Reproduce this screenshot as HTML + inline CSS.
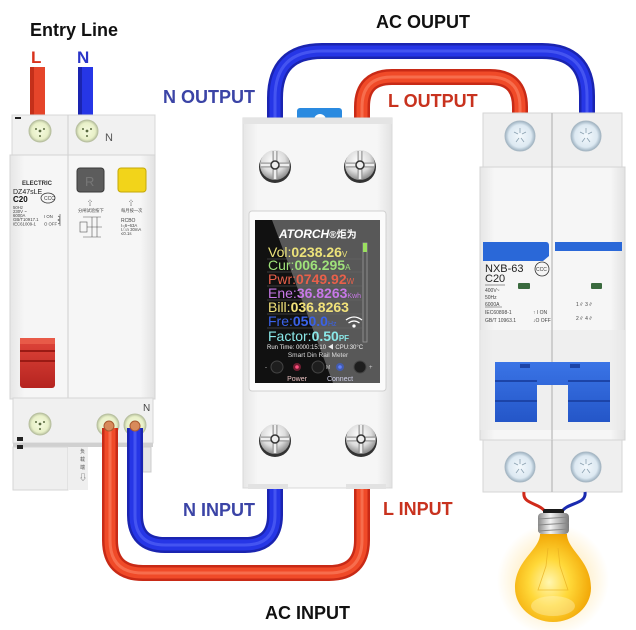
<!DOCTYPE html>
<html><head><meta charset="utf-8">
<style>
html,body{margin:0;padding:0;background:#fff;}
svg{display:block;}
text{font-family:"Liberation Sans","Noto Sans CJK SC",sans-serif;}
</style></head>
<body>
<svg width="636" height="630" viewBox="0 0 636 630" xmlns="http://www.w3.org/2000/svg">
<defs>
  <radialGradient id="scr" cx="45%" cy="35%" r="65%">
    <stop offset="0" stop-color="#ffffff"/>
    <stop offset="0.6" stop-color="#dcdcdc"/>
    <stop offset="1" stop-color="#8a8a8a"/>
  </radialGradient>
  <radialGradient id="grn" cx="50%" cy="50%" r="50%">
    <stop offset="0" stop-color="#f6fbe0"/>
    <stop offset="0.75" stop-color="#e8f0c8"/>
    <stop offset="1" stop-color="#b9c2a0"/>
  </radialGradient>
  <radialGradient id="blu" cx="50%" cy="50%" r="50%">
    <stop offset="0" stop-color="#f2f8fc"/>
    <stop offset="0.75" stop-color="#dde9f2"/>
    <stop offset="1" stop-color="#9fb3c2"/>
  </radialGradient>
  <radialGradient id="bulb" cx="45%" cy="55%" r="60%">
    <stop offset="0" stop-color="#fff6b0"/>
    <stop offset="0.45" stop-color="#ffd838"/>
    <stop offset="1" stop-color="#f0a000"/>
  </radialGradient>
  <radialGradient id="glow" cx="50%" cy="50%" r="50%">
    <stop offset="0" stop-color="#ffd060" stop-opacity="0.7"/>
    <stop offset="1" stop-color="#ffd060" stop-opacity="0"/>
  </radialGradient>
  <linearGradient id="sock" x1="0" y1="0" x2="1" y2="0">
    <stop offset="0" stop-color="#8a8a8a"/>
    <stop offset="0.4" stop-color="#f4f4f4"/>
    <stop offset="1" stop-color="#7a7a7a"/>
  </linearGradient>
  <linearGradient id="body" x1="0" y1="0" x2="1" y2="0">
    <stop offset="0" stop-color="#e6e6e6"/>
    <stop offset="0.1" stop-color="#f6f6f6"/>
    <stop offset="0.9" stop-color="#f6f6f6"/>
    <stop offset="1" stop-color="#e2e2e2"/>
  </linearGradient>
  <linearGradient id="hblue" x1="0" y1="0" x2="0" y2="1">
    <stop offset="0" stop-color="#3a74e6"/>
    <stop offset="1" stop-color="#2456c8"/>
  </linearGradient>
  <linearGradient id="hred" x1="0" y1="0" x2="0" y2="1">
    <stop offset="0" stop-color="#e0453a"/>
    <stop offset="1" stop-color="#b52420"/>
  </linearGradient>
</defs>

<!-- ===== TITLES ===== -->
<text x="30" y="36" font-size="18" font-weight="bold" fill="#111">Entry Line</text>
<text x="31" y="63" font-size="17" font-weight="bold" fill="#d8321c">L</text>
<text x="77" y="63" font-size="17" font-weight="bold" fill="#2a35c8">N</text>
<text x="376" y="28" font-size="18" font-weight="bold" fill="#111">AC OUPUT</text>
<text x="163" y="103" font-size="18" font-weight="bold" fill="#3b44a6">N OUTPUT</text>
<text x="388" y="107" font-size="18" font-weight="bold" fill="#c8321e">L OUTPUT</text>
<text x="183" y="516" font-size="18" font-weight="bold" fill="#3b44a6">N INPUT</text>
<text x="383" y="515" font-size="18" font-weight="bold" fill="#c8321e">L INPUT</text>
<text x="265" y="619" font-size="18" font-weight="bold" fill="#111">AC INPUT</text>

<!-- ===== TOP WIRES ===== -->
<g fill="none" stroke-linecap="butt">
  <path d="M275 120 V98 Q275 51 322 51 H542 Q587 51 587 96 V116" stroke="#1a24b0" stroke-width="16"/>
  <path d="M275 120 V98 Q275 51 322 51 H542 Q587 51 587 96 V116" stroke="#2636e6" stroke-width="11"/>
  <path d="M275 120 V98 Q275 51 322 51 H542 Q587 51 587 96 V116" stroke="#6a7aff" stroke-width="3" opacity="0.45"/>
  <path d="M362 120 V107 Q362 77 392 77 H490 Q520 77 520 107 V116" stroke="#c82a16" stroke-width="16"/>
  <path d="M362 120 V107 Q362 77 392 77 H490 Q520 77 520 107 V116" stroke="#f04a28" stroke-width="11"/>
  <path d="M362 120 V107 Q362 77 392 77 H490 Q520 77 520 107 V116" stroke="#ff9a7a" stroke-width="3" opacity="0.45"/>
  <!-- entry wires -->
  <rect x="30" y="67" width="15" height="50" fill="#e5452a" stroke="none"/>
  <rect x="30" y="67" width="4" height="50" fill="#c4301a" stroke="none"/>
  <rect x="78" y="67" width="15" height="50" fill="#2636e6" stroke="none"/>
  <rect x="78" y="67" width="4" height="50" fill="#1a24b0" stroke="none"/>
</g>

<!-- ===== LEFT BREAKER ===== -->
<g>
  <!-- top terminal block -->
  <rect x="12" y="115" width="143" height="42" fill="#f1f1f1" stroke="#d8d8d8"/>
  <line x1="68" y1="115" x2="68" y2="157" stroke="#cfcfcf"/>
  <rect x="15" y="117" width="6" height="2" fill="#222"/>
  <circle cx="40" cy="131" r="11" fill="url(#grn)" stroke="#b8c0a0"/>
  <circle cx="87" cy="131" r="11" fill="url(#grn)" stroke="#b8c0a0"/>
  <g fill="#5a6a40"><circle cx="40" cy="131" r="1.4"/><circle cx="36" cy="129" r="1"/><circle cx="44" cy="129" r="1"/><circle cx="40" cy="136" r="1"/>
  <circle cx="87" cy="131" r="1.4"/><circle cx="83" cy="129" r="1"/><circle cx="91" cy="129" r="1"/><circle cx="87" cy="136" r="1"/></g>
  <text x="105" y="141" font-size="11" fill="#555">N</text>
  <!-- body -->
  <rect x="10" y="155" width="145" height="244" fill="url(#body)" stroke="#d4d4d4"/>
  <line x1="68" y1="155" x2="68" y2="490" stroke="#cfcfcf"/>
  <!-- buttons -->
  <rect x="77" y="168" width="27" height="24" rx="3" fill="#5c5c5c" stroke="#3a3a3a"/>
  <text x="85" y="186" font-size="13" fill="#777">R</text>
  <rect x="118" y="168" width="28" height="24" rx="3" fill="#f2d41a" stroke="#c4a808"/>
  <text x="22" y="185" font-size="6" font-weight="bold" fill="#333">ELECTRIC</text>
  <text x="13" y="194" font-size="7" fill="#222">DZ47sLE</text>
  <text x="13" y="202" font-size="8" font-weight="bold" fill="#111">C20</text>
  <ellipse cx="48" cy="198" rx="7" ry="5" fill="none" stroke="#333" stroke-width="0.8"/>
  <text x="44" y="200" font-size="5" fill="#333">CCC</text>
  <g font-size="4.3" fill="#444">
    <text x="13" y="209">50Hz</text><text x="13" y="213">230V ~</text><text x="13" y="217">6000A</text>
    <text x="13" y="221">GB/T10917.1</text><text x="13" y="225.5">IEC61009-1</text>
    <text x="44" y="218">I ON</text><text x="44" y="225.5">O OFF</text>
    <text x="87" y="205" font-size="6">⇧</text><text x="128" y="205" font-size="6">⇧</text>
    <text x="78" y="212">分闸试验按下</text><text x="121" y="212">每月按一次</text>
    <text x="121" y="222" font-size="5">RCBO</text><text x="121" y="227">I=6~63A</text>
    <text x="121" y="231">I△n 30mA</text><text x="121" y="235">≤0.1s</text>
  </g>
  <path d="M60 214 v12 M58 216 q4 2 0 4 q4 2 0 4" stroke="#444" stroke-width="0.6" fill="none"/>
  <g stroke="#555" stroke-width="0.6" fill="none">
    <rect x="80" y="222" width="7" height="10"/><path d="M87 227 h15 M92 217 v20 M97 217 v20 M83 237 h18 M83 217 h18"/>
  </g>
  <!-- red handle -->
  <rect x="20" y="338" width="35" height="50" rx="3" fill="url(#hred)"/>
  <rect x="20" y="350" width="35" height="2" fill="#9a1a14"/>
  <rect x="20" y="360" width="35" height="2" fill="#9a1a14"/>
  <rect x="20" y="338" width="35" height="6" fill="#e85a48"/>
  <!-- bottom block -->
  <rect x="13" y="398" width="140" height="45" fill="#f0f0f0" stroke="#d6d6d6"/>
  <rect x="13" y="443" width="140" height="4" fill="#d0d0d0"/>
  <rect x="13" y="447" width="55" height="43" fill="#efefef" stroke="#d6d6d6"/>
  <rect x="68" y="447" width="20" height="43" fill="#efefef"/>
  <rect x="143" y="447" width="8" height="25" fill="#e6e6e6" stroke="#ccc"/>
  <rect x="17" y="437" width="6" height="4" fill="#222"/><rect x="17" y="445" width="6" height="4" fill="#222"/>
  <circle cx="40" cy="424" r="11" fill="url(#grn)" stroke="#b8c0a0"/>
  <g fill="#5a6a40"><circle cx="40" cy="424" r="1.4"/><circle cx="36" cy="422" r="1"/><circle cx="44" cy="422" r="1"/><circle cx="40" cy="429" r="1"/></g>
  <text x="143" y="411" font-size="10" fill="#444">N</text>
  <circle cx="108" cy="425" r="11" fill="url(#grn)" stroke="#b8c0a0"/>
  <circle cx="135" cy="425" r="11" fill="url(#grn)" stroke="#b8c0a0"/>
  <g font-size="5" fill="#555"><text x="80" y="453">负</text><text x="80" y="461">载</text><text x="80" y="469">端</text><text x="79" y="480" font-size="8">⇩</text></g>
</g>

<!-- ===== BOTTOM WIRES ===== -->
<g fill="none">
  <path d="M362 486 V540 Q362 573 329 573 H143 Q110 573 110 540 V428" stroke="#c82a16" stroke-width="16"/>
  <path d="M362 486 V540 Q362 573 329 573 H143 Q110 573 110 540 V428" stroke="#f04a28" stroke-width="11"/>
  <path d="M362 486 V540 Q362 573 329 573 H143 Q110 573 110 540 V428" stroke="#ff9a7a" stroke-width="3" opacity="0.45"/>
  <path d="M275 486 V515 Q275 545 245 545 H165 Q135 545 135 515 V428" stroke="#1a24b0" stroke-width="16"/>
  <path d="M275 486 V515 Q275 545 245 545 H165 Q135 545 135 515 V428" stroke="#2636e6" stroke-width="11"/>
  <path d="M275 486 V515 Q275 545 245 545 H165 Q135 545 135 515 V428" stroke="#6a7aff" stroke-width="3" opacity="0.45"/>
</g>
<circle cx="109" cy="426" r="5" fill="#d88a5a" stroke="#a85a30"/>
<circle cx="135" cy="426" r="5" fill="#d88a5a" stroke="#a85a30"/>

<!-- ===== CENTER METER ===== -->
<g>
  <rect x="297" y="108" width="45" height="13" rx="3" fill="#2a8ae0"/>
  <circle cx="320" cy="120" r="6" fill="#fff"/>
  <rect x="243" y="118" width="149" height="370" fill="url(#body)" stroke="#d8d8d8"/>
  <rect x="243" y="118" width="149" height="6" fill="#e4e4e4"/>
  <rect x="248" y="484" width="40" height="5" fill="#e2e2e2"/>
  <rect x="346" y="484" width="40" height="5" fill="#e2e2e2"/>
  <!-- screws -->
  <g>
    <circle cx="275" cy="167" r="16" fill="#333"/>
    <circle cx="275" cy="165" r="15" fill="url(#scr)"/>
    <path d="M275 151 V179 M261 165 H289" stroke="#999" stroke-width="5"/>
    <path d="M275 151 V179 M261 165 H289" stroke="#eee" stroke-width="2.5"/>
    <circle cx="275" cy="165" r="4" fill="#eee" stroke="#333" stroke-width="1.5"/>
    <circle cx="360" cy="167" r="16" fill="#333"/>
    <circle cx="360" cy="165" r="15" fill="url(#scr)"/>
    <path d="M360 151 V179 M346 165 H374" stroke="#999" stroke-width="5"/>
    <path d="M360 151 V179 M346 165 H374" stroke="#eee" stroke-width="2.5"/>
    <circle cx="360" cy="165" r="4" fill="#eee" stroke="#333" stroke-width="1.5"/>
    <circle cx="275" cy="441" r="16" fill="#333"/>
    <circle cx="275" cy="439" r="15" fill="url(#scr)"/>
    <path d="M275 425 V453 M261 439 H289" stroke="#999" stroke-width="5"/>
    <path d="M275 425 V453 M261 439 H289" stroke="#eee" stroke-width="2.5"/>
    <circle cx="275" cy="439" r="4" fill="#eee" stroke="#333" stroke-width="1.5"/>
    <circle cx="361" cy="441" r="16" fill="#333"/>
    <circle cx="361" cy="439" r="15" fill="url(#scr)"/>
    <path d="M361 425 V453 M347 439 H375" stroke="#999" stroke-width="5"/>
    <path d="M361 425 V453 M347 439 H375" stroke="#eee" stroke-width="2.5"/>
    <circle cx="361" cy="439" r="4" fill="#eee" stroke="#333" stroke-width="1.5"/>
  </g>
  <!-- screen -->
  <rect x="249" y="211" width="137" height="180" rx="3" fill="#fbfbfb" stroke="#d0d0d0"/>
  <rect x="255" y="220" width="125" height="163" fill="#111"/>
  <polygon points="272,220 380,220 380,383 333,383" fill="#ffffff" opacity="0.3"/>
  <text x="279" y="238" font-size="12" font-weight="bold" font-style="italic" fill="#fff">ATORCH<tspan font-size="10" font-style="normal">®炬为</tspan></text>
  <g stroke="#666" stroke-width="0.5">
    <line x1="267" y1="259" x2="362" y2="259"/><line x1="267" y1="272" x2="362" y2="272"/>
    <line x1="267" y1="286" x2="362" y2="286"/><line x1="267" y1="300" x2="362" y2="300"/>
    <line x1="267" y1="314" x2="362" y2="314"/><line x1="267" y1="328" x2="362" y2="328"/>
  </g>
  <rect x="363" y="243" width="4" height="99" fill="none" stroke="#999" stroke-width="0.8"/>
  <rect x="363" y="243" width="4" height="9" fill="#9be060"/>
  <g font-size="14">
    <text x="268" y="257" fill="#ece27a">Vol:<tspan font-weight="bold">0238.26</tspan><tspan font-size="8">V</tspan></text>
    <text x="268" y="270" fill="#9fe27a">Cur:<tspan font-weight="bold">006.295</tspan><tspan font-size="8">A</tspan></text>
    <text x="268" y="284" fill="#e8604a">Pwr:<tspan font-weight="bold">0749.92</tspan><tspan font-size="8">W</tspan></text>
    <text x="268" y="298" fill="#c878e8">Ene:<tspan font-weight="bold">36.8263</tspan><tspan font-size="7">Kwh</tspan></text>
    <text x="268" y="312" fill="#f2e27a">Bill:<tspan font-weight="bold">036.8263</tspan></text>
    <text x="268" y="326" fill="#3a62e8">Fre:<tspan font-weight="bold">050.0</tspan><tspan font-size="7">Hz</tspan></text>
    <text x="268" y="341" fill="#8ae8e8">Factor:<tspan font-weight="bold">0.50</tspan><tspan font-size="8" font-weight="bold">PF</tspan></text>
  </g>
  <g fill="none" stroke="#fff" stroke-width="1.3">
    <path d="M346 320 q8 -6 16 0"/><path d="M348.5 323 q5.5 -4 11 0"/><circle cx="354" cy="326" r="1" fill="#fff"/>
  </g>
  <text x="267" y="349" font-size="6" fill="#eee">Run Time: 0000:15:10 ◀ CPU:30°C</text>
  <text x="318" y="357" font-size="6.5" fill="#ddd" text-anchor="middle">Smart Din Rail Meter</text>
  <circle cx="277" cy="367" r="6" fill="#1e1e1e" stroke="#444"/>
  <circle cx="318" cy="367" r="6" fill="#1e1e1e" stroke="#444"/>
  <circle cx="360" cy="367" r="6" fill="#1e1e1e" stroke="#444"/>
  <circle cx="297" cy="367" r="4" fill="#ff3060" opacity="0.4"/>
  <circle cx="297" cy="367" r="1.8" fill="#ff5080"/>
  <circle cx="340" cy="367" r="4" fill="#3060ff" opacity="0.5"/>
  <circle cx="340" cy="367" r="1.8" fill="#6080ff"/>
  <text x="265" y="369" font-size="6" fill="#ccc">-</text>
  <text x="326" y="369" font-size="5" fill="#ccc">M</text>
  <text x="369" y="369" font-size="6" fill="#ccc">+</text>
  <text x="297" y="381" font-size="7" fill="#e8c0c0" text-anchor="middle">Power</text>
  <text x="340" y="381" font-size="7" fill="#d0d0e8" text-anchor="middle">Connect</text>
</g>

<!-- ===== RIGHT BREAKER ===== -->
<g>
  <rect x="483" y="113" width="139" height="55" fill="#efefef" stroke="#d6d6d6"/>
  <rect x="480" y="167" width="145" height="273" fill="url(#body)" stroke="#d4d4d4"/>
  <rect x="480" y="330" width="145" height="100" fill="#ebebeb" opacity="0.6"/>
  <line x1="552" y1="113" x2="552" y2="492" stroke="#b8b8b8" stroke-width="1.2"/>
  <circle cx="520" cy="136" r="15" fill="url(#blu)" stroke="#a8b8c4"/>
  <circle cx="586" cy="136" r="15" fill="url(#blu)" stroke="#a8b8c4"/>
  <g stroke="#8aa0b0" stroke-width="0.8"><path d="M520 128v5 M514 132l4 2 M526 132l-4 2 M516 142l3-4 M524 142l-3-4"/>
  <path d="M586 128v5 M580 132l4 2 M592 132l-4 2 M582 142l3-4 M590 142l-3-4"/></g>
  <!-- blue label -->
  <path d="M483 242 H546 Q549 242 549 246 V256 L543 261 H483 Z" fill="#2a68d8"/>
  <rect x="555" y="242" width="67" height="9" fill="#2a68d8"/>
  <text x="485" y="272" font-size="11" fill="#222">NXB-63</text>
  <text x="485" y="282" font-size="11" fill="#222">C20</text>
  <circle cx="542" cy="269" r="7" fill="none" stroke="#333" stroke-width="0.8"/>
  <text x="536" y="271" font-size="5" fill="#333">CCC</text>
  <line x1="485" y1="285" x2="505" y2="285" stroke="#333" stroke-width="0.6"/>
  <rect x="518" y="283" width="12" height="6" rx="1" fill="#3a6a3e"/>
  <rect x="591" y="283" width="11" height="6" rx="1" fill="#3a6a3e"/>
  <g font-size="5" fill="#444">
    <text x="485" y="292">400V~</text><text x="485" y="299">50Hz</text><text x="485" y="306">6000A</text>
    <text x="485" y="314">IEC60898-1</text><text x="485" y="322">GB/T 10963.1</text>
    <text x="533" y="314">↑ I ON</text><text x="533" y="322">↓O OFF</text>
    <text x="576" y="306">1∥ 3∥</text><text x="576" y="320">2∥ 4∥</text>
  </g>
  <line x1="485" y1="307" x2="502" y2="307" stroke="#444" stroke-width="0.5"/>
  <!-- blue handle -->
  <path d="M495 362 H610 V422 H568 V385 H537 V422 H495 Z" fill="url(#hblue)"/>
  <rect x="495" y="380" width="42" height="2" fill="#1c44a8"/><rect x="568" y="380" width="42" height="2" fill="#1c44a8"/>
  <rect x="495" y="400" width="42" height="2" fill="#1c44a8"/><rect x="568" y="400" width="42" height="2" fill="#1c44a8"/>
  <rect x="520" y="364" width="10" height="4" fill="#1c44a8"/><rect x="570" y="364" width="10" height="4" fill="#1c44a8"/>
  <!-- bottom block -->
  <rect x="483" y="440" width="139" height="52" fill="#efefef" stroke="#d6d6d6"/>
  <line x1="552" y1="440" x2="552" y2="492" stroke="#b8b8b8" stroke-width="1.2"/>
  <circle cx="520" cy="467" r="15" fill="url(#blu)" stroke="#a8b8c4"/>
  <circle cx="586" cy="467" r="15" fill="url(#blu)" stroke="#a8b8c4"/>
  <g stroke="#8aa0b0" stroke-width="0.8"><path d="M520 459v5 M514 463l4 2 M526 463l-4 2 M516 473l3-4 M524 473l-3-4"/>
  <path d="M586 459v5 M580 463l4 2 M592 463l-4 2 M582 473l3-4 M590 473l-3-4"/></g>
</g>

<!-- ===== BULB ===== -->
<g>
  <circle cx="553" cy="580" r="56" fill="url(#glow)"/>
  <path d="M524 492 C522 505 540 502 546 513" fill="none" stroke="#d02a1a" stroke-width="3"/>
  <path d="M585 492 C587 505 566 502 561 513" fill="none" stroke="#1a2ab0" stroke-width="3"/>
  <rect x="543" y="509" width="21" height="5" rx="2" fill="#1a1a1a"/>
  <rect x="538" y="513" width="31" height="21" rx="4" fill="url(#sock)"/>
  <g stroke="#888" stroke-width="1"><line x1="538" y1="519" x2="569" y2="517"/><line x1="538" y1="525" x2="569" y2="523"/><line x1="538" y1="531" x2="569" y2="529"/></g>
  <path d="M540 534 C540 550 515 560 515 588 A38 34 0 0 0 591 588 C591 560 567 550 567 534 Z" fill="url(#bulb)"/>
  <path d="M548 548 L546 566 L538 590 H568 L560 566 L558 548" fill="none" stroke="#e8b020" stroke-width="0.8" opacity="0.8"/>
  <ellipse cx="553" cy="606" rx="22" ry="10" fill="#fff8d0" opacity="0.35"/>
</g>
</svg>
</body></html>
